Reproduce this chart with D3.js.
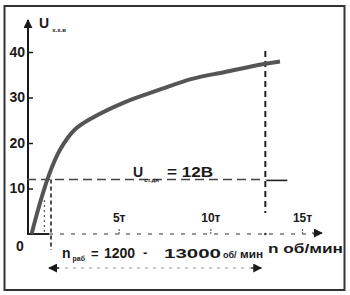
<!DOCTYPE html>
<html><head><meta charset="utf-8">
<script src="https://cdn.jsdelivr.net/npm/d3@7"></script>
<style>
body{margin:0;background:#fff;}
svg{display:block;}
text{font-family:"Liberation Sans",Arial,sans-serif;font-weight:bold;fill:#1a1a1a;}
</style></head><body>
<svg id="c" width="350" height="295"></svg>
<script>
// Data
const rpm = [250, 650, 1200, 1800, 2600, 3550, 5350, 7150, 9000, 10800, 13000, 13800];
const voltage = [0, 6, 13, 18.5, 22.9, 25.5, 29, 31.6, 34.1, 35.6, 37.4, 37.9];
const yTicks = [10, 20, 30, 40];
const xTicks = [5000, 10000, 15000];
const xTickLabels = ["5т", "10т", "15т"];
const uSet = 12;
const nMin = 1200, nMax = 13000;

const svg = d3.select("#c");
const x = d3.scaleLinear().domain([0, 15000]).range([27, 302]);
const y = d3.scaleLinear().domain([0, 40]).range([234, 52]);

// defs
const defs = svg.append("defs");
defs.append("marker").attr("id","ah").attr("viewBox","0 0 10 10").attr("refX",9).attr("refY",5)
  .attr("markerWidth",9).attr("markerHeight",9).attr("markerUnits","userSpaceOnUse").attr("orient","auto-start-reverse")
  .append("path").attr("d","M0,0 L10,5 L0,10 Z").attr("fill","#1a1a1a");

// frame
svg.append("rect").attr("x",4.5).attr("y",6).attr("width",340).attr("height",284)
  .attr("fill","none").attr("stroke","#333").attr("stroke-width",2);

// x axis (dashed)
svg.append("line").attr("x1",x(0)).attr("x2",318).attr("y1",y(0)).attr("y2",y(0))
  .attr("stroke","#777").attr("stroke-width",1.3).attr("stroke-dasharray","4,7");
svg.append("line").attr("x1",x(0)).attr("x2",x(nMin)).attr("y1",y(0)).attr("y2",y(0))
  .attr("stroke","#222").attr("stroke-width",2);
svg.append("line").attr("x1",312).attr("x2",322).attr("y1",y(0)-1).attr("y2",y(0)-1)
  .attr("stroke","#222").attr("stroke-width",1).attr("marker-end","url(#ah)");

const xa = svg.append("g").attr("transform",`translate(0,${y(0)})`)
  .call(d3.axisTop(x).tickValues(xTicks).tickSize(5).tickPadding(7)
    .tickFormat((d,i)=>xTickLabels[i]));
xa.select(".domain").remove();
xa.selectAll(".tick line").attr("stroke","#666").attr("stroke-width",1.2).attr("stroke-dasharray","2,1");
xa.selectAll(".tick text").attr("font-size",12).attr("fill","#1a1a1a")
  .attr("font-family","Liberation Sans, Arial, sans-serif").attr("font-weight","bold");

// y axis
svg.append("line").attr("x1",x(0)+1).attr("x2",x(0)+1).attr("y1",y(0)).attr("y2",20)
  .attr("stroke","#1a1a1a").attr("stroke-width",2).attr("marker-end","url(#ah)");
const ya = svg.append("g").attr("transform",`translate(${x(0)+1},0)`)
  .call(d3.axisLeft(y).tickValues(yTicks).tickSize(-5).tickPadding(3));
ya.select(".domain").remove();
ya.selectAll(".tick line").attr("stroke","#1a1a1a").attr("stroke-width",1.5);
ya.selectAll(".tick text").attr("font-size",14).attr("fill","#1a1a1a")
  .attr("font-family","Liberation Sans, Arial, sans-serif").attr("font-weight","bold");
svg.append("text").attr("x",20).attr("y",251).attr("text-anchor","middle").attr("font-size",14).text("0");

// reference lines
svg.append("line").attr("x1",x(0)).attr("x2",x(nMax)).attr("y1",y(uSet)).attr("y2",y(uSet))
  .attr("stroke","#444").attr("stroke-width",1.5).attr("stroke-dasharray","9,5");
svg.append("line").attr("x1",x(nMax)+1).attr("x2",x(nMax)+22).attr("y1",y(uSet)+1).attr("y2",y(uSet)+1)
  .attr("stroke","#222").attr("stroke-width",1.6);
svg.append("line").attr("x1",x(nMax)).attr("x2",x(nMax)).attr("y1",y(40.2)).attr("y2",213)
  .attr("stroke","#222").attr("stroke-width",2).attr("stroke-dasharray","6,4");
svg.append("circle").attr("cx",x(nMax)).attr("cy",y(0)).attr("r",1.3).attr("fill","#333");
svg.append("line").attr("x1",x(nMin)+2).attr("x2",x(nMin)+2).attr("y1",y(uSet)).attr("y2",250)
  .attr("stroke","#222").attr("stroke-width",1.6).attr("stroke-dasharray","4,3");
svg.append("line").attr("x1",x(950)).attr("x2",x(950)).attr("y1",y(7.5)).attr("y2",y(0))
  .attr("stroke","#555").attr("stroke-width",1.2).attr("stroke-dasharray","2,3");

// curve
const pts = rpm.map((r,i)=>[r, voltage[i]]);
svg.append("path").datum(pts)
  .attr("d", d3.line().x(d=>x(d[0])).y(d=>y(d[1])).curve(d3.curveCatmullRom.alpha(0.5)))
  .attr("fill","none").attr("stroke","#555").attr("stroke-width",4).attr("stroke-linecap","butt");

// labels
const uy = svg.append("text").attr("x",39).attr("y",28).attr("font-size",14);
uy.append("tspan").text("U");
uy.append("tspan").attr("font-size",6).attr("dx",3).attr("dy",4).text("х.х.в");

const ul = svg.append("text").attr("x",133).attr("y",177).attr("font-size",14);
ul.append("tspan").text("U");
ul.append("tspan").attr("font-size",6).attr("dy",5).attr("dx",1).text("ст.дн");
svg.append("text").attr("x",167).attr("y",177).attr("font-size",15)
  .attr("textLength",46).attr("lengthAdjust","spacingAndGlyphs").text("= 12В");

const nl = svg.append("text").attr("x",62).attr("y",258).attr("font-size",14);
nl.append("tspan").text("n");
nl.append("tspan").attr("font-size",7).attr("dy",3).attr("dx",2).text("раб");
svg.append("text").attr("x",91).attr("y",258).attr("font-size",13).text("=");
svg.append("text").attr("x",104).attr("y",258).attr("font-size",14).text("1200");
svg.append("text").attr("x",143).attr("y",257).attr("font-size",13).text("-");
svg.append("text").attr("x",164).attr("y",258).attr("font-size",13)
  .attr("textLength",57).attr("lengthAdjust","spacingAndGlyphs").text("13000");
svg.append("text").attr("x",223).attr("y",258).attr("font-size",9).text("об/");
svg.append("text").attr("x",240).attr("y",258).attr("font-size",10)
  .attr("textLength",23).attr("lengthAdjust","spacingAndGlyphs").text("мин");
svg.append("text").attr("x",268).attr("y",253).attr("font-size",13)
  .attr("textLength",75).attr("lengthAdjust","spacingAndGlyphs").text("n об/мин");

// range double arrow
svg.append("line").attr("x1",x(nMin)).attr("x2",x(nMax)-4).attr("y1",268).attr("y2",268)
  .attr("stroke","#999").attr("stroke-width",1).attr("stroke-dasharray","3,5");
svg.append("line").attr("x1",x(nMin)).attr("x2",x(nMin)+10).attr("y1",268).attr("y2",268)
  .attr("stroke","#222").attr("stroke-width",1.5).attr("marker-start","url(#ah)");
svg.append("line").attr("x1",x(nMax)-14).attr("x2",x(nMax)-4).attr("y1",268).attr("y2",268)
  .attr("stroke","#222").attr("stroke-width",1.5).attr("marker-end","url(#ah)");
</script>
</body></html>
